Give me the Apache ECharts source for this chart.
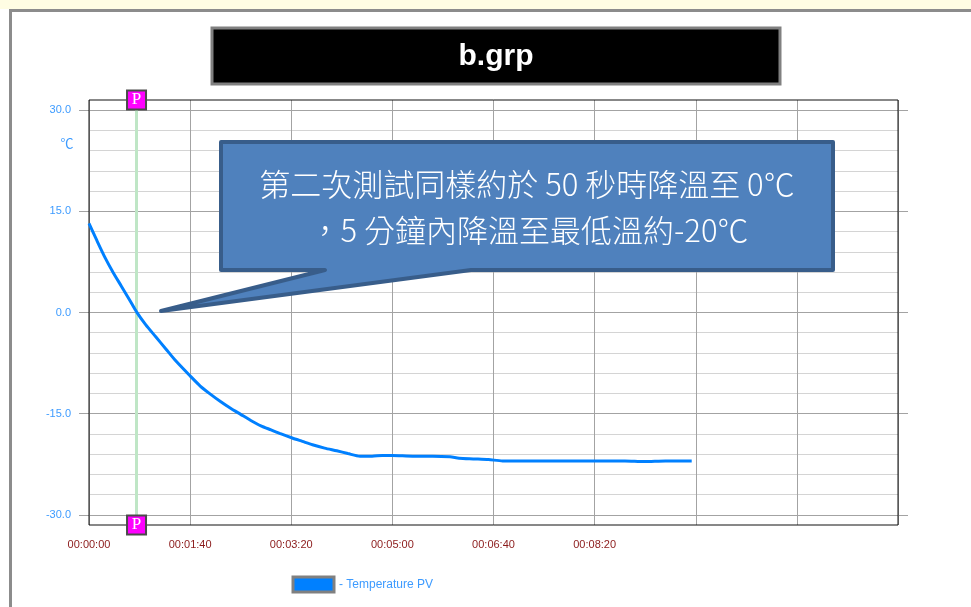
<!DOCTYPE html>
<html>
<head>
<meta charset="utf-8">
<script src="https://cdn.jsdelivr.net/npm/echarts@6/dist/echarts.min.js"></script>
<style>
  html, body { margin: 0; padding: 0; background: #ffffff; }
  #chart { width: 971px; height: 607px; }
</style>
</head>
<body>
<div id="chart"></div>
<script>
// Recorded temperature (PV) against elapsed seconds
const timeSec = [0, 8, 16, 24, 32, 40, 47, 56, 66, 76, 86, 100, 110, 120, 130, 140, 150, 160, 170, 180,
  190, 201, 211, 221, 233, 245, 256, 268, 280, 290, 300, 320, 340, 357, 366, 380, 395, 409, 430, 460,
  500, 530, 549, 570, 596];
const tempPV = [13.2, 10.6, 8.1, 5.9, 3.9, 1.9, 0.1, -1.8, -3.6, -5.4, -7.2, -9.4, -10.9, -12.1, -13.2, -14.2, -15.1, -16.0, -16.8, -17.4,
  -18.0, -18.6, -19.1, -19.6, -20.1, -20.5, -20.9, -21.3, -21.3, -21.2, -21.2, -21.3, -21.3, -21.4, -21.6, -21.7, -21.8, -22.0, -22.0, -22.0,
  -22.0, -22.0, -22.1, -22.0, -22.0];

// Time axis: one tick every 100 s, labels only on the first six
const xTickLabels = ['00:00:00', '00:01:40', '00:03:20', '00:05:00', '00:06:40', '00:08:20', '', '', ''];
const xTickStep = 100;
const yTickLabels = { '-30': '-30.0', '-15': '-15.0', '0': '0.0', '15': '15.0', '30': '30.0' };

const seriesName = 'Temperature PV';
const markerTimeSec = 47;              // "P" cursor position
const plotRange = { xMin: 0, xMax: 800, yMin: -31.5, yMax: 31.5 };
const scaleRange = { min: -30, max: 30, major: 15, minor: 3 };

const titleText = 'b.grp';
const noteLines = ['第二次測試同樣約於 50 秒時降溫至 0℃', '，5 分鐘內降溫至最低溫約-20℃'];
const unitText = '℃';

// plot frame and the inner band carrying the graduated lines
const frame = { left: 89, top: 100, width: 809, height: 425 };
const pxPerUnit = frame.height / (plotRange.yMax - plotRange.yMin);
const scaleBand = {
  left: frame.left,
  width: frame.width,
  top: frame.top + (plotRange.yMax - scaleRange.max) * pxPerUnit,
  height: (scaleRange.max - scaleRange.min) * pxPerUnit
};

const MAJOR = '#a3a3a3';
const MINOR = '#d4d4d4';
const LABEL_BLUE = '#3d9bff';
const FONT = '"Liberation Sans", Arial, sans-serif';
const CJK = '"Noto Sans CJK TC", "Noto Sans CJK SC", sans-serif';

const chart = echarts.init(document.getElementById('chart'), null, { renderer: 'canvas' });

const minorColors = [MAJOR];
for (let i = 1; i < scaleRange.major / scaleRange.minor; i++) minorColors.push(MINOR);

chart.setOption({
  animation: false,
  backgroundColor: '#ffffff',
  textStyle: { fontFamily: FONT },
  grid: [
    {
      left: frame.left, top: frame.top, width: frame.width, height: frame.height,
      show: true, borderColor: '#111111', borderWidth: 1, backgroundColor: 'transparent',
      outerBoundsMode: 'none', z: 3
    },
    {
      left: scaleBand.left, top: scaleBand.top, width: scaleBand.width, height: scaleBand.height,
      outerBoundsMode: 'none', z: 1
    }
  ],
  xAxis: [
    {
      gridIndex: 0, type: 'value', min: plotRange.xMin, max: plotRange.xMax, interval: xTickStep,
      axisLine: { show: false }, axisTick: { show: false },
      splitLine: { show: true, lineStyle: { color: MAJOR, width: 1 } },
      axisLabel: {
        color: '#8b1a1a', fontSize: 11, margin: 14, fontFamily: FONT,
        formatter: v => xTickLabels[Math.round(v / xTickStep)] || ''
      }
    },
    {
      gridIndex: 1, type: 'value', min: plotRange.xMin, max: plotRange.xMax, show: false
    }
  ],
  yAxis: [
    {
      gridIndex: 0, type: 'value', min: plotRange.yMin, max: plotRange.yMax,
      axisLine: { show: false }, axisTick: { show: false }, axisLabel: { show: false },
      splitLine: { show: false }
    },
    {
      // fine graduation every 3 units, every fifth one darker
      gridIndex: 1, type: 'value', position: 'left', min: scaleRange.min, max: scaleRange.max,
      interval: scaleRange.minor,
      axisLine: { show: false }, axisTick: { show: false }, axisLabel: { show: false },
      splitLine: { show: true, lineStyle: { color: minorColors, width: 1 } }
    },
    {
      // major labels and the outside tick stubs on the left
      gridIndex: 1, type: 'value', position: 'left', min: scaleRange.min, max: scaleRange.max,
      interval: scaleRange.major,
      axisLine: { show: false },
      axisTick: { show: true, inside: false, length: 10, lineStyle: { color: MAJOR, width: 1 } },
      axisLabel: {
        color: LABEL_BLUE, fontSize: 11, margin: 18, fontFamily: FONT,
        formatter: v => yTickLabels[String(v)] || ''
      },
      splitLine: { show: false }
    },
    {
      // tick stubs past the right edge
      gridIndex: 1, type: 'value', position: 'right', min: scaleRange.min, max: scaleRange.max,
      interval: scaleRange.major,
      axisLine: { show: false },
      axisTick: { show: true, inside: false, length: 10, lineStyle: { color: MAJOR, width: 1 } },
      axisLabel: { show: false },
      splitLine: { show: false }
    }
  ],
  legend: {
    data: [seriesName],
    left: 291.5, top: 575.5, padding: 0,
    icon: 'rect', itemWidth: 41, itemHeight: 15,
    itemStyle: { color: '#0080ff', borderColor: '#808080', borderWidth: 3 },
    formatter: name => '- ' + name,
    textStyle: { color: LABEL_BLUE, fontSize: 12, fontFamily: FONT }
  },
  series: [
    {
      // cursor line
      name: 'cursor', type: 'line', xAxisIndex: 0, yAxisIndex: 0, data: [], z: 2,
      markLine: {
        silent: true, symbol: 'none', animation: false,
        label: { show: false },
        lineStyle: { color: '#bfe6c6', width: 3, type: 'solid' },
        data: [{ xAxis: markerTimeSec }]
      }
    },
    {
      name: seriesName, type: 'line', xAxisIndex: 0, yAxisIndex: 0, z: 10,
      data: timeSec.map((t, i) => [t, tempPV[i]]),
      showSymbol: false, symbol: 'none', smooth: 0.25,
      lineStyle: { color: '#0080ff', width: 3 },
      itemStyle: { color: '#0080ff' }
    },
    {
      // "P" flags at both ends of the cursor
      name: 'P', type: 'scatter', xAxisIndex: 0, yAxisIndex: 0, z: 20, clip: false,
      data: [[markerTimeSec, plotRange.yMax], [markerTimeSec, plotRange.yMin]],
      symbol: 'rect', symbolSize: 19,
      itemStyle: { color: '#ff00ff', borderColor: '#4a4a4a', borderWidth: 2, opacity: 1 },
      label: {
        show: true, position: 'inside', formatter: 'P', color: '#ffffff',
        fontSize: 17, fontFamily: '"Liberation Serif", "DejaVu Serif", serif'
      },
      emphasis: { disabled: true }
    }
  ],
  graphic: [
    // window frame
    { type: 'rect', shape: { x: 0, y: 0, width: 971, height: 9 }, style: { fill: '#fffde3' }, z: 50, silent: true },
    { type: 'rect', shape: { x: 9, y: 9, width: 962, height: 3 }, style: { fill: '#8c8c8c' }, z: 50, silent: true },
    { type: 'rect', shape: { x: 9, y: 9, width: 3, height: 598 }, style: { fill: '#8c8c8c' }, z: 50, silent: true },
    // title plate
    {
      type: 'rect', shape: { x: 212, y: 28, width: 568, height: 56 },
      style: { fill: '#000000', stroke: '#808080', lineWidth: 3 }, z: 50, silent: true
    },
    {
      type: 'text', x: 496, y: 57, z: 51, silent: true,
      style: {
        text: titleText, fill: '#ffffff', fontSize: 30, fontWeight: 'bold', fontFamily: FONT,
        align: 'center', verticalAlign: 'middle'
      }
    },
    // unit under the top label
    {
      type: 'text', x: 67, y: 143, z: 50, silent: true,
      style: { text: unitText, fill: LABEL_BLUE, fontSize: 13, fontFamily: CJK, align: 'center', verticalAlign: 'middle' }
    },
    // callout balloon
    {
      type: 'polygon', z: 60, silent: true,
      shape: { points: [[221, 142], [833, 142], [833, 270], [471, 270], [161, 311], [325, 270], [221, 270]] },
      style: { fill: '#4f81bd', stroke: '#385d8a', lineWidth: 4, lineJoin: 'round' }
    },
    {
      type: 'text', x: 527, y: 184, z: 61, silent: true,
      style: {
        text: noteLines[0], fill: '#ffffff', fontSize: 31, fontFamily: CJK,
        fontWeight: 300, align: 'center', verticalAlign: 'middle'
      }
    },
    {
      type: 'text', x: 529, y: 230, z: 61, silent: true,
      style: {
        text: noteLines[1], fill: '#ffffff', fontSize: 31, fontFamily: CJK,
        fontWeight: 300, align: 'center', verticalAlign: 'middle'
      }
    }
  ]
});
</script>
</body>
</html>
